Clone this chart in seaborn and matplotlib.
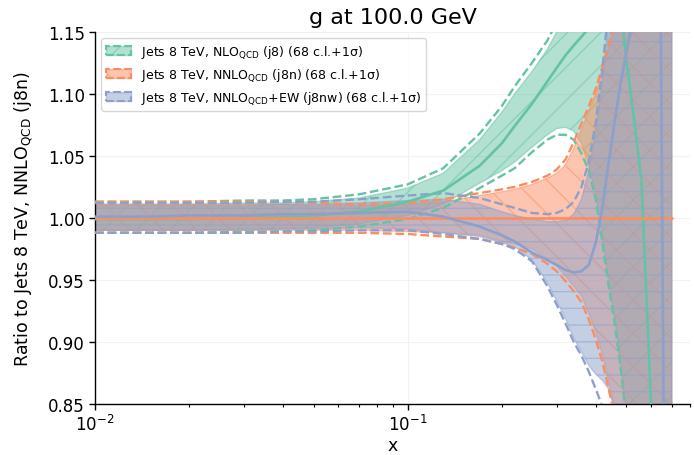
import numpy as np
import pandas as pd
import matplotlib
matplotlib.use("Agg")
import matplotlib.pyplot as plt
import seaborn as sns
from matplotlib.patches import Patch

# ---------------- data ----------------
x = [0.01, 0.015, 0.02, 0.03, 0.04, 0.05, 0.07, 0.1, 0.13, 0.17, 0.2, 0.22, 0.25, 0.28, 0.3,
     0.32, 0.34, 0.36, 0.38, 0.4, 0.42, 0.44, 0.46, 0.48, 0.5, 0.53, 0.56, 0.6, 0.64, 0.67, 0.7]

# Jets 8 TeV NLO QCD (j8)
j8_cv = [0.999, 0.999, 0.999, 1.000, 1.001, 1.002, 1.005, 1.013, 1.022, 1.042, 1.060, 1.074, 1.092, 1.110, 1.121,
         1.131, 1.139, 1.146, 1.153, 1.170, 1.200, 1.230, 1.220, 1.170, 1.130, 1.080, 1.030, 0.855, 0.700, 0.600, 0.500]
j8_hi68 = [1.011, 1.011, 1.011, 1.012, 1.012, 1.013, 1.016, 1.024, 1.036, 1.063, 1.085, 1.100, 1.118, 1.136, 1.150,
           1.167, 1.190, 1.220, 1.250, 1.280, 1.320, 1.360, 1.400, 1.450, 1.500, 1.550, 1.600, 1.650, 1.700, 1.750, 1.800]
j8_lo68 = [0.990, 0.990, 0.990, 0.991, 0.991, 0.992, 0.995, 1.002, 1.011, 1.028, 1.038, 1.045, 1.057, 1.067, 1.072,
           1.073, 1.070, 1.060, 1.042, 1.020, 0.985, 0.950, 0.920, 0.885, 0.845, 0.790, 0.730, 0.660, 0.610, 0.560, 0.520]
j8_hi1s = [1.013, 1.013, 1.013, 1.014, 1.014, 1.015, 1.019, 1.027, 1.040, 1.068, 1.090, 1.106, 1.125, 1.143, 1.158,
           1.175, 1.200, 1.230, 1.260, 1.300, 1.350, 1.400, 1.450, 1.500, 1.550, 1.600, 1.650, 1.700, 1.750, 1.800, 1.850]
j8_lo1s = [0.988, 0.988, 0.988, 0.989, 0.989, 0.990, 0.993, 0.999, 1.008, 1.024, 1.034, 1.040, 1.053, 1.063, 1.067,
           1.067, 1.063, 1.052, 1.038, 1.015, 0.980, 0.945, 0.915, 0.880, 0.840, 0.780, 0.720, 0.650, 0.600, 0.550, 0.500]

# Jets 8 TeV NNLO QCD (j8n) -- reference
j8n_cv = [1.0] * 31
j8n_hi68 = [1.011, 1.011, 1.011, 1.011, 1.011, 1.010, 1.010, 1.011, 1.013, 1.018, 1.021, 1.023, 1.027, 1.032, 1.036,
            1.043, 1.056, 1.071, 1.086, 1.100, 1.118, 1.136, 1.157, 1.190, 1.220, 1.270, 1.320, 1.380, 1.450, 1.500, 1.550]
j8n_lo68 = [0.990, 0.990, 0.990, 0.990, 0.990, 0.990, 0.990, 0.989, 0.988, 0.986, 0.981, 0.979, 0.975, 0.967, 0.961,
            0.953, 0.945, 0.937, 0.923, 0.908, 0.890, 0.868, 0.845, 0.815, 0.785, 0.735, 0.685, 0.625, 0.565, 0.525, 0.485]
j8n_hi1s = [1.013, 1.013, 1.013, 1.013, 1.013, 1.012, 1.011, 1.012, 1.015, 1.020, 1.023, 1.025, 1.029, 1.034, 1.039,
            1.047, 1.061, 1.076, 1.090, 1.104, 1.122, 1.140, 1.160, 1.190, 1.220, 1.270, 1.320, 1.380, 1.450, 1.500, 1.550]
j8n_lo1s = [0.988, 0.988, 0.988, 0.988, 0.988, 0.988, 0.988, 0.987, 0.985, 0.983, 0.979, 0.976, 0.971, 0.963, 0.957,
            0.949, 0.941, 0.932, 0.918, 0.902, 0.884, 0.862, 0.840, 0.810, 0.780, 0.730, 0.680, 0.620, 0.560, 0.520, 0.480]

# Jets 8 TeV NNLO QCD+EW (j8nw)
j8nw_cv = [1.001, 1.001, 1.002, 1.002, 1.003, 1.003, 1.004, 1.005, 1.001, 0.993, 0.986, 0.981, 0.972, 0.966, 0.962,
           0.958, 0.956, 0.957, 0.962, 0.980, 1.008, 1.045, 1.078, 1.108, 1.132, 1.165, 1.200, 1.240, 1.300, 0.600, 0.500]
j8nw_hi68 = [1.010, 1.010, 1.010, 1.010, 1.011, 1.011, 1.012, 1.014, 1.015, 1.011, 1.005, 1.002, 0.999, 0.997, 0.997,
             0.998, 1.003, 1.015, 1.038, 1.070, 1.110, 1.160, 1.210, 1.260, 1.310, 1.370, 1.430, 1.490, 1.540, 1.590, 1.640]
j8nw_lo68 = [0.990, 0.990, 0.990, 0.990, 0.991, 0.991, 0.992, 0.991, 0.988, 0.985, 0.980, 0.977, 0.966, 0.948, 0.933,
             0.919, 0.903, 0.892, 0.881, 0.874, 0.869, 0.862, 0.845, 0.820, 0.790, 0.740, 0.690, 0.630, 0.570, 0.530, 0.490]
j8nw_hi1s = [1.012, 1.012, 1.012, 1.012, 1.013, 1.013, 1.015, 1.018, 1.020, 1.016, 1.011, 1.008, 1.004, 1.003, 1.004,
             1.007, 1.013, 1.025, 1.045, 1.077, 1.120, 1.170, 1.220, 1.270, 1.320, 1.380, 1.440, 1.500, 1.550, 1.600, 1.650]
j8nw_lo1s = [0.988, 0.988, 0.988, 0.988, 0.989, 0.989, 0.990, 0.990, 0.987, 0.983, 0.979, 0.975, 0.965, 0.945, 0.930,
             0.915, 0.900, 0.889, 0.876, 0.862, 0.848, 0.830, 0.810, 0.780, 0.750, 0.700, 0.650, 0.600, 0.550, 0.500, 0.450]

labels = [r"Jets 8 TeV, NLO$_{\mathrm{QCD}}$ (j8) (68 c.l.+1σ)",
          r"Jets 8 TeV, NNLO$_{\mathrm{QCD}}$ (j8n) (68 c.l.+1σ)",
          r"Jets 8 TeV, NNLO$_{\mathrm{QCD}}$+EW (j8nw) (68 c.l.+1σ)"]
yticks = [0.85, 0.90, 0.95, 1.00, 1.05, 1.10, 1.15]
ytick_labels = ["0.85", "0.90", "0.95", "1.00", "1.05", "1.10", "1.15"]
colors = ["#66c2a5", "#fc8d62", "#8da0cb"]
hatches = ["/", "\\", "-"]

series = [
    (j8_cv, j8_lo68, j8_hi68, j8_lo1s, j8_hi1s),
    (j8n_cv, j8n_lo68, j8n_hi68, j8n_lo1s, j8n_hi1s),
    (j8nw_cv, j8nw_lo68, j8nw_hi68, j8nw_lo1s, j8nw_hi1s),
]

# ---------------- plot ----------------
sns.set_theme(style="ticks")
plt.rcParams["font.family"] = ["DejaVu Sans"]
plt.rcParams["hatch.linewidth"] = 1.0
for k in ["text.color", "axes.labelcolor", "xtick.color", "ytick.color"]:
    plt.rcParams[k] = "black"

fig, ax = plt.subplots(figsize=(6.94, 4.56), dpi=100)
fig.subplots_adjust(left=0.137, right=0.994, bottom=0.112, top=0.928)

for (cv, lo68, hi68, lo1s, hi1s), c, h in zip(series, colors, hatches):
    ax.fill_between(x, lo68, hi68, color=c, alpha=0.5, hatch=h, linewidth=1.0, zorder=2)

for (cv, lo68, hi68, lo1s, hi1s), c in zip(series, colors):
    df = pd.DataFrame({"x": x, "cv": cv, "lo": lo1s, "hi": hi1s})
    sns.lineplot(data=df, x="x", y="lo", ax=ax, color=c, linestyle="--", linewidth=1.7,
                 estimator=None, sort=False, zorder=3)
    sns.lineplot(data=df, x="x", y="hi", ax=ax, color=c, linestyle="--", linewidth=1.7,
                 estimator=None, sort=False, zorder=3)

for (cv, lo68, hi68, lo1s, hi1s), c in zip(series, colors):
    df = pd.DataFrame({"x": x, "cv": cv})
    sns.lineplot(data=df, x="x", y="cv", ax=ax, color=c, linewidth=1.9,
                 estimator=None, sort=False, zorder=4)

ax.set_xscale("log")
ax.set_xlim(0.01, 0.8)
ax.set_ylim(0.85, 1.15)
ax.set_yticks(yticks)
ax.set_yticklabels(ytick_labels)
ax.tick_params(axis="both", which="major", labelsize=12, direction="out", length=4, width=1, color="black")
ax.tick_params(axis="x", which="minor", direction="out", length=2.5, width=0.8, color="black")
ax.grid(True, which="major", color="#f2f2f2", linewidth=0.8, zorder=0)
for s in ["top", "right"]:
    ax.spines[s].set_visible(False)
for s in ["left", "bottom"]:
    ax.spines[s].set_color("black")
    ax.spines[s].set_linewidth(1.0)

ax.set_xlabel("x", fontsize=12.5, labelpad=1)
ax.set_ylabel(r"Ratio to Jets 8 TeV, NNLO$_{\mathrm{QCD}}$ (j8n)", fontsize=12.5, labelpad=9)
ax.set_title("g at 100.0 GeV", fontsize=16)

handles = []
for c, h in zip(colors, hatches):
    handles.append((Patch(facecolor=c, edgecolor=c, alpha=0.5, hatch=h),
                    Patch(fill=False, edgecolor=c, linestyle="--", linewidth=1.5)))
leg = ax.legend(handles, labels, loc="upper left", fontsize=9, frameon=True,
                fancybox=True, framealpha=0.8, edgecolor="#cccccc")
leg.set_zorder(10)

fig.savefig("out.png", dpi=100)
